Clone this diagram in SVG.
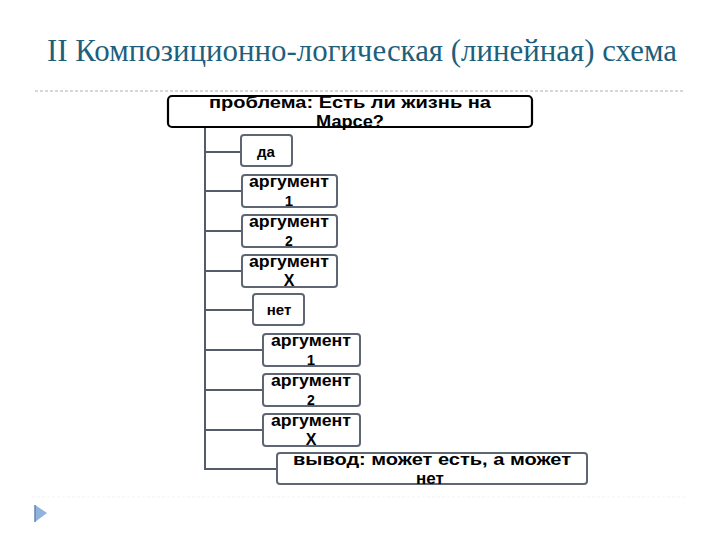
<svg xmlns="http://www.w3.org/2000/svg" width="720" height="540" viewBox="0 0 720 540">
<style>
.title{font-family:"Liberation Serif","DejaVu Serif",serif;font-size:31px;fill:#1d5f7c}
.t{font-family:"Liberation Sans",Arial,sans-serif;font-weight:bold;fill:#000;text-anchor:middle}
.box{fill:#fff;stroke:#5f6673;stroke-width:2}
.main{fill:#fff;stroke:#000;stroke-width:2.2}
.conn{fill:none;stroke:#555c69;stroke-width:2}
</style>
<rect width="720" height="540" fill="#fff"/>
<text class="title" x="47" y="61" textLength="630" lengthAdjust="spacingAndGlyphs">II Композиционно-логическая (линейная) схема</text>
<line x1="35" y1="91" x2="685" y2="91" stroke="#b0b0b0" stroke-width="1" stroke-dasharray="3,2"/>
<line x1="32" y1="497" x2="685" y2="497" stroke="#f3f3f3" stroke-width="1" stroke-dasharray="3,2"/>
<polygon points="35,505 47,513 35,522" fill="#8fb3dc"/>
<line x1="35" y1="505" x2="35" y2="522" stroke="#5f86b5" stroke-width="1.5"/>
<g id="connectors">
<path class="conn" d="M205,128 V469 H277"/>
<path class="conn" d="M205,152 H241 M205,191 H242 M205,231 H242 M205,271 H242 M205,310 H253 M205,350 H263 M205,390 H263 M205,430 H263"/>
</g>
<g id="problem">
<rect class="main" x="168" y="96" width="364" height="31" rx="4"/>
<text class="t" x="350" y="108" font-size="17" textLength="282" lengthAdjust="spacingAndGlyphs">проблема: Есть ли жизнь на</text>
<text class="t" x="350" y="127" font-size="17" textLength="68" lengthAdjust="spacingAndGlyphs">Марсе?</text>
</g>
<g id="yes">
<rect class="box" x="241" y="135" width="51" height="31" rx="3"/>
<text class="t" x="266" y="157" font-size="15">да</text>
</g>
<g id="yes-arg1">
<rect class="box" x="242" y="175" width="95" height="32" rx="3"/>
<text class="t" x="289" y="187" font-size="16" textLength="80" lengthAdjust="spacingAndGlyphs">аргумент</text>
<text class="t" x="289" y="206" font-size="15">1</text>
</g>
<g id="yes-arg2">
<rect class="box" x="242" y="215" width="95" height="32" rx="3"/>
<text class="t" x="289" y="227" font-size="16" textLength="80" lengthAdjust="spacingAndGlyphs">аргумент</text>
<text class="t" x="289" y="246" font-size="14">2</text>
</g>
<g id="yes-argx">
<rect class="box" x="242" y="255" width="95" height="32" rx="3"/>
<text class="t" x="289" y="267" font-size="16" textLength="80" lengthAdjust="spacingAndGlyphs">аргумент</text>
<text class="t" x="289" y="286" font-size="16">Х</text>
</g>
<g id="no">
<rect class="box" x="253" y="294" width="51" height="31" rx="3"/>
<text class="t" x="279" y="315" font-size="15">нет</text>
</g>
<g id="no-arg1">
<rect class="box" x="263" y="334" width="97" height="32" rx="3"/>
<text class="t" x="311" y="346" font-size="16" textLength="80" lengthAdjust="spacingAndGlyphs">аргумент</text>
<text class="t" x="311" y="365" font-size="15">1</text>
</g>
<g id="no-arg2">
<rect class="box" x="263" y="374" width="97" height="32" rx="3"/>
<text class="t" x="311" y="386" font-size="16" textLength="80" lengthAdjust="spacingAndGlyphs">аргумент</text>
<text class="t" x="311" y="405" font-size="14">2</text>
</g>
<g id="no-argx">
<rect class="box" x="263" y="414" width="97" height="32" rx="3"/>
<text class="t" x="311" y="426" font-size="16" textLength="80" lengthAdjust="spacingAndGlyphs">аргумент</text>
<text class="t" x="311" y="445" font-size="16">Х</text>
</g>
<g id="conclusion">
<rect class="box" x="277" y="453" width="310" height="31" rx="3"/>
<text class="t" x="432" y="465" font-size="17" textLength="278" lengthAdjust="spacingAndGlyphs">вывод: может есть, а может</text>
<text class="t" x="430" y="484" font-size="17">нет</text>
</g>
</svg>
